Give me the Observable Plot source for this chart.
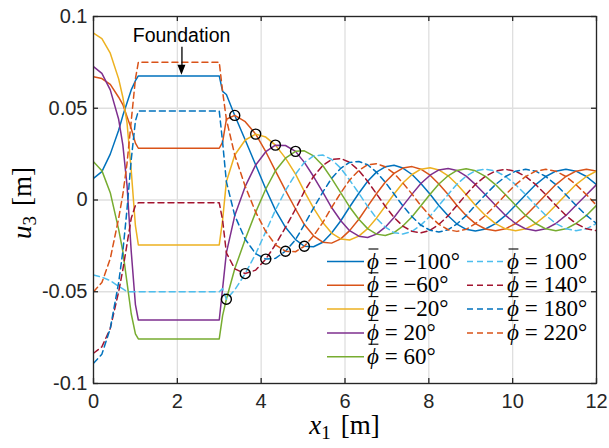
<!DOCTYPE html>
<html>
<head>
<meta charset="utf-8">
<script src="https://cdn.jsdelivr.net/npm/d3@7"></script>
<script src="https://cdn.jsdelivr.net/npm/@observablehq/plot@0.6"></script>
<style>
  body { margin: 0; background: #fff; }
</style>
</head>
<body>
<div id="chart"></div>
<script>
// Positions along the surface, x1 [m]
const x1 = [0, 0.2, 0.4, 0.6, 0.7, 0.8, 0.9, 1.0, 1.07, 3.0,
  3.08, 3.17, 3.37, 3.62, 3.87, 4.11, 4.34, 4.58, 4.82, 5.03,
  5.25, 5.47, 5.68, 5.90, 6.11, 6.33, 6.54, 6.75, 6.96, 7.17,
  7.38, 7.60, 7.81, 8.03, 8.24, 8.46, 8.67, 8.89, 9.11, 9.35,
  9.59, 9.83, 10.07, 10.31, 10.55, 10.79, 11.03, 11.27, 11.51, 11.76, 12.00];

// Vertical displacement u3 [m] for each phase angle
const u_m100 = [0.0118, 0.0155, 0.025, 0.038, 0.046, 0.053, 0.060, 0.065, 0.0676, 0.0676,
  0.0592, 0.0575, 0.0461, 0.0327, 0.0191, 0.0060, -0.0055, -0.0149, -0.0216, -0.0252,
  -0.0255, -0.0230, -0.0180, -0.0113, -0.0038, 0.0037, 0.0102, 0.0152, 0.0181, 0.0189,
  0.0174, 0.0139, 0.0090, 0.0031, -0.0030, -0.0086, -0.0131, -0.0160, -0.0169, -0.0158,
  -0.0129, -0.0084, -0.0029, 0.0029, 0.0084, 0.0128, 0.0157, 0.0167, 0.0157, 0.0128, 0.0084];
const u_m60 = [0.0672, 0.0662, 0.063, 0.056, 0.052, 0.0454, 0.039, 0.031, 0.0282, 0.0282,
  0.0315, 0.0440, 0.0461, 0.0427, 0.0359, 0.0263, 0.0159, 0.0052, -0.0049, -0.0134,
  -0.0195, -0.0230, -0.0235, -0.0212, -0.0167, -0.0105, -0.0035, 0.0034, 0.0097, 0.0145,
  0.0174, 0.0182, 0.0168, 0.0135, 0.0087, 0.0030, -0.0030, -0.0085, -0.0129, -0.0158,
  -0.0168, -0.0157, -0.0128, -0.0084, -0.0029, 0.0029, 0.0084, 0.0128, 0.0157, 0.0167, 0.0157];
const u_m20 = [0.0909, 0.088, 0.080, 0.066, 0.056, 0.042, 0.016, -0.014, -0.0245, -0.0245,
  -0.0110, 0.0100, 0.0245, 0.0327, 0.0359, 0.0343, 0.0299, 0.0228, 0.0141, 0.0047,
  -0.0044, -0.0123, -0.0180, -0.0212, -0.0218, -0.0197, -0.0156, -0.0099, -0.0034, 0.0033,
  0.0093, 0.0139, 0.0168, 0.0176, 0.0164, 0.0132, 0.0086, 0.0030, -0.0029, -0.0084,
  -0.0129, -0.0157, -0.0167, -0.0157, -0.0128, -0.0084, -0.0029, 0.0029, 0.0084, 0.0128, 0.0157];
const u_20 = [0.0727, 0.069, 0.060, 0.044, 0.030, 0.008, -0.028, -0.057, -0.0654, -0.0654,
  -0.0483, -0.0288, -0.0085, 0.0074, 0.0191, 0.0263, 0.0299, 0.0297, 0.0265, 0.0205,
  0.0128, 0.0043, -0.0041, -0.0113, -0.0167, -0.0197, -0.0204, -0.0186, -0.0148, -0.0095,
  -0.0032, 0.0032, 0.0090, 0.0135, 0.0164, 0.0172, 0.0161, 0.0130, 0.0085, 0.0029,
  -0.0029, -0.0084, -0.0128, -0.0157, -0.0167, -0.0157, -0.0128, -0.0084, -0.0029, 0.0029, 0.0084];
const u_60 = [0.0209, 0.016, 0.004, -0.016, -0.028, -0.045, -0.062, -0.073, -0.0757, -0.0757,
  -0.0630, -0.0541, -0.0375, -0.0214, -0.0066, 0.0060, 0.0159, 0.0228, 0.0265, 0.0268,
  0.0240, 0.0188, 0.0118, 0.0039, -0.0038, -0.0105, -0.0156, -0.0186, -0.0193, -0.0178,
  -0.0142, -0.0091, -0.0031, 0.0031, 0.0087, 0.0132, 0.0161, 0.0170, 0.0159, 0.0129,
  0.0084, 0.0029, -0.0029, -0.0084, -0.0128, -0.0157, -0.0167, -0.0157, -0.0128, -0.0084, -0.0029];
const u_100 = [-0.0409, -0.042, -0.044, -0.047, -0.0485, -0.050, -0.050, -0.050, -0.050, -0.050,
  -0.0483, -0.0541, -0.0490, -0.0401, -0.0293, -0.0172, -0.0055, 0.0052, 0.0141, 0.0205,
  0.0240, 0.0245, 0.0221, 0.0173, 0.0109, 0.0037, -0.0035, -0.0099, -0.0148, -0.0178,
  -0.0185, -0.0171, -0.0137, -0.0088, -0.0030, 0.0030, 0.0086, 0.0130, 0.0159, 0.0168,
  0.0158, 0.0128, 0.0084, 0.0029, -0.0029, -0.0084, -0.0128, -0.0157, -0.0167, -0.0157, -0.0128];
const u_140 = [-0.0835, -0.080, -0.070, -0.050, -0.038, -0.024, -0.010, -0.003, -0.0015, -0.0015,
  -0.0110, -0.0288, -0.0375, -0.0401, -0.0382, -0.0322, -0.0244, -0.0149, -0.0049, 0.0047,
  0.0128, 0.0188, 0.0221, 0.0226, 0.0205, 0.0161, 0.0102, 0.0034, -0.0034, -0.0095,
  -0.0142, -0.0171, -0.0179, -0.0165, -0.0133, -0.0086, -0.0030, 0.0030, 0.0085, 0.0129,
  0.0158, 0.0167, 0.0157, 0.0128, 0.0084, 0.0029, -0.0029, -0.0084, -0.0128, -0.0157, -0.0167];
const u_180 = [-0.089, -0.084, -0.070, -0.045, -0.028, -0.005, 0.022, 0.043, 0.0485, 0.0485,
  0.0315, 0.0100, -0.0085, -0.0214, -0.0293, -0.0322, -0.0318, -0.0279, -0.0216, -0.0134,
  -0.0044, 0.0043, 0.0118, 0.0173, 0.0205, 0.0210, 0.0192, 0.0152, 0.0097, 0.0033,
  -0.0032, -0.0091, -0.0137, -0.0165, -0.0174, -0.0162, -0.0131, -0.0085, -0.0029, 0.0029,
  0.0084, 0.0128, 0.0157, 0.0167, 0.0157, 0.0128, 0.0084, 0.0029, -0.0029, -0.0084, -0.0128];
const u_220 = [-0.050, -0.045, -0.032, -0.010, 0.003, 0.020, 0.043, 0.066, 0.0751, 0.0751,
  0.0592, 0.0440, 0.0245, 0.0074, -0.0066, -0.0172, -0.0244, -0.0279, -0.0282, -0.0252,
  -0.0195, -0.0123, -0.0041, 0.0039, 0.0109, 0.0161, 0.0192, 0.0198, 0.0181, 0.0145,
  0.0093, 0.0032, -0.0031, -0.0088, -0.0133, -0.0162, -0.0171, -0.0160, -0.0129, -0.0084,
  -0.0029, 0.0029, 0.0084, 0.0128, 0.0157, 0.0167, 0.0157, 0.0128, 0.0084, 0.0029, -0.0029];

const phiValues = [-100, -60, -20, 20, 60, 100, 140, 180, 220];
const seriesValues = [u_m100, u_m60, u_m20, u_20, u_60, u_100, u_140, u_180, u_220];
const seriesColors = ["#0072BD", "#D95319", "#EDB120", "#7E2F8E", "#77AC30",
                      "#4DBEEE", "#A2142F", "#0072BD", "#D95319"];
const seriesDashed = [false, false, false, false, false, true, true, true, true];

// Envelope markers where neighbouring phases cross
const envelopeX = [3.37, 3.87, 4.34, 4.82, 3.17, 3.62, 4.11, 4.58, 5.03];
const envelopeU = [0.0461, 0.0359, 0.0299, 0.0265, -0.0541, -0.0401, -0.0322, -0.0279, -0.0252];

const xTicks = [0, 2, 4, 6, 8, 10, 12];
const yTicks = [-0.1, -0.05, 0, 0.05, 0.1];
const yTickLabels = ["-0.1", "-0.05", "0", "0.05", "0.1"];

// Foundation annotation
const foundationLabel = {x: 2.10, u: 0.0896, text: "Foundation"};
const foundationArrow = {x: 2.11, uTop: 0.0832, uTip: 0.0680};

const W = 609, H = 448;
const margin = {top: 16, right: 13, bottom: 65, left: 93};
const innerH = H - margin.top - margin.bottom;
const innerW = W - margin.left - margin.right;
const tickLen = 5;
const axisColor = "#262626";

const lineMarks = seriesValues.map((vals, s) => Plot.line(
  x1.map((x, i) => ({x, u: vals[i]})),
  {x: "x", y: "u", stroke: seriesColors[s], strokeWidth: 1.5,
   strokeDasharray: seriesDashed[s] ? "6,4" : null, clip: true}
));

const markers = envelopeX.map((x, i) => ({x, u: envelopeU[i]}));

const chart = Plot.plot({
  width: W, height: H,
  marginTop: margin.top, marginRight: margin.right,
  marginBottom: margin.bottom, marginLeft: margin.left,
  style: {fontFamily: "'Liberation Sans', Arial, sans-serif", fontSize: "20px", background: "#fff", color: axisColor},
  x: {domain: [0, 12]},
  y: {domain: [-0.1, 0.1]},
  marks: [
    Plot.gridX(xTicks, {stroke: "#dfdfdf", strokeOpacity: 1, strokeWidth: 1.3}),
    Plot.gridY(yTicks, {stroke: "#dfdfdf", strokeOpacity: 1, strokeWidth: 1.3}),
    ...lineMarks,
    Plot.dot(markers, {x: "x", y: "u", r: 5, stroke: "black", strokeWidth: 1.4, fill: "none"}),
    Plot.frame({stroke: axisColor, strokeWidth: 1.3}),
    Plot.tickX(xTicks, {x: d => d, insetTop: innerH - tickLen, stroke: axisColor, strokeWidth: 1.3}),
    Plot.tickX(xTicks, {x: d => d, insetBottom: innerH - tickLen, stroke: axisColor, strokeWidth: 1.3}),
    Plot.tickY(yTicks, {y: d => d, insetRight: innerW - tickLen, stroke: axisColor, strokeWidth: 1.3}),
    Plot.tickY(yTicks, {y: d => d, insetLeft: innerW - tickLen, stroke: axisColor, strokeWidth: 1.3}),
    Plot.axisX(xTicks, {tickSize: 0, tickPadding: 10, label: null, fill: axisColor, fontSize: 20}),
    Plot.axisY(yTicks, {tickSize: 0, tickPadding: 6, label: null, fill: axisColor, fontSize: 20,
      tickFormat: d => yTickLabels[yTicks.indexOf(d)]}),
    Plot.text([foundationLabel], {x: "x", y: "u", text: "text", fill: "black", fontSize: 19.5}),
    Plot.ruleX([foundationArrow], {x: "x", y1: "uTop", y2: d => d.uTip + 0.003, stroke: "black", strokeWidth: 1.3})
  ]
});

document.getElementById("chart").appendChild(chart);

const svg = d3.select(chart);
const sx = chart.scale("x"), sy = chart.scale("y");

// Filled arrowhead of the foundation pointer
{
  const ax = sx.apply(foundationArrow.x), tip = sy.apply(foundationArrow.uTip);
  svg.append("path")
    .attr("d", `M${ax},${tip} L${ax - 4},${tip - 10} L${ax + 4},${tip - 10} Z`)
    .attr("fill", "black");
}

// Axis titles
const serif = "'Liberation Serif', 'Times New Roman', serif";
const xl = svg.append("text")
  .attr("x", (margin.left + W - margin.right) / 2).attr("y", 434)
  .attr("text-anchor", "middle").attr("font-family", serif).attr("font-size", 27).attr("fill", "black");
xl.append("tspan").attr("font-style", "italic").text("x");
xl.append("tspan").attr("font-size", 19).attr("dy", 5).text("1");
xl.append("tspan").attr("dy", -5).attr("dx", 10).text("[m]");

const yl = svg.append("text")
  .attr("transform", `translate(31,203) rotate(-90)`)
  .attr("text-anchor", "middle").attr("font-family", serif).attr("font-size", 27).attr("fill", "black");
yl.append("tspan").attr("font-style", "italic").text("u");
yl.append("tspan").attr("font-size", 19).attr("dy", 5).text("3");
yl.append("tspan").attr("dy", -5).attr("dx", 10).text("[m]");

// Legend, two columns inside the axes
const legend = svg.append("g");
phiValues.forEach((phi, s) => {
  const col = s < 5 ? 0 : 1;
  const row = col ? s - 5 : s;
  const lx = col ? 467 : 327;
  const ly = 261.5 + row * 23.8;
  legend.append("line")
    .attr("x1", lx).attr("x2", lx + 37).attr("y1", ly).attr("y2", ly)
    .attr("stroke", seriesColors[s]).attr("stroke-width", 1.5)
    .attr("stroke-dasharray", seriesDashed[s] ? "6,4" : null);
  const sym = legend.append("text")
    .attr("x", lx + 40).attr("y", ly + 7)
    .attr("text-anchor", "start").attr("font-family", serif).attr("font-size", 23)
    .attr("font-style", "italic").attr("fill", "black")
    .text("\u03D5");
  const w = sym.node().getComputedTextLength();
  // bar over the phase symbol
  legend.append("line")
    .attr("x1", lx + 41.5).attr("x2", lx + 40 + w - 0.5)
    .attr("y1", ly - 12.5).attr("y2", ly - 12.5)
    .attr("stroke", "black").attr("stroke-width", 1.1);
  legend.append("text")
    .attr("x", lx + 40 + w).attr("y", ly + 7)
    .attr("text-anchor", "start").attr("font-family", serif).attr("font-size", 23)
    .attr("fill", "black")
    .text(` = ${phi < 0 ? "\u2212" + (-phi) : phi}\u00B0`);
});
</script>
</body>
</html>
